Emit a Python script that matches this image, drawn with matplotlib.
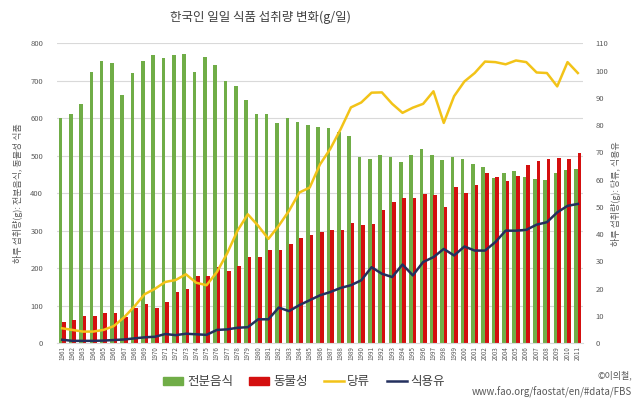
import matplotlib
matplotlib.use("Agg")
import matplotlib.pyplot as plt
from matplotlib.patches import Patch
from matplotlib.lines import Line2D
import numpy as np

plt.rcParams['font.family'] = ['Noto Sans CJK KR', 'DejaVu Sans']

years = list(range(1961, 2012))
starch = [600, 612, 637, 723, 754, 748, 661, 721, 752, 768,
          761, 770, 772, 724, 763, 742, 700, 687, 649, 611,
          611, 588, 602, 590, 581, 577, 575, 563, 554, 496,
          491, 503, 497, 484, 503, 518, 503, 489, 498, 491,
          479, 469, 442, 453, 460, 443, 439, 436, 454, 463, 466]
animal = [56, 62, 73, 73, 82, 82, 71, 93, 104, 93,
          109, 138, 146, 180, 180, 204, 193, 205, 230, 230,
          250, 250, 266, 281, 289, 297, 301, 301, 320, 315,
          319, 355, 377, 387, 387, 397, 395, 364, 417, 402,
          421, 455, 443, 432, 447, 475, 486, 491, 493, 491, 508]
sugar = [5.5, 4.9, 4.3, 4.3, 4.9, 6.3, 9.5, 13.5, 18.0, 20.0,
         22.5, 23.2, 25.3, 22.2, 21.3, 26.1, 33.0, 41.3, 47.3, 43.1,
         38.3, 43.1, 48.6, 55.3, 57.1, 65.6, 71.3, 78.5, 86.5, 88.3,
         91.9, 92.0, 87.8, 84.5, 86.4, 87.8, 92.4, 80.8, 90.6, 96.0,
         99.1, 103.3, 103.1, 102.3, 103.7, 103.1, 99.3, 99.1, 94.2, 103.1, 99.1]
oil = [1.3, 0.9, 0.9, 0.9, 1.0, 1.2, 1.4, 1.8, 2.2, 2.4,
       3.4, 3.0, 3.5, 3.3, 3.1, 4.9, 5.1, 5.7, 5.9, 8.8,
       8.8, 13.1, 11.8, 14.0, 15.8, 17.6, 18.8, 20.3, 21.3, 23.1,
       27.9, 25.5, 24.3, 28.9, 24.9, 29.8, 31.6, 34.6, 32.2, 35.5,
       34.0, 34.0, 37.1, 41.3, 41.3, 41.6, 43.5, 44.4, 48.0, 50.4, 51.1]

series_names = ['전분음식', '동물성', '당류', '식용유']
title = '한국인 일일 식품 섭취량 변화(g/일)'
left_label = '하루 섭취량(g): 전분음식, 동물성 식품'
right_label = '하루 섭취량(g): 당류, 식용유'
credit1 = '©이의철,'
credit2 = 'www.fao.org/faostat/en/#data/FBS'

c_green = '#70AD47'
c_red = '#D40F0F'
c_yellow = '#F2C318'
c_navy = '#24305E'
c_text = '#595959'

fig = plt.figure(figsize=(6.4, 3.99), dpi=100)
ax = fig.add_axes([57/640, 1-343.3/399, (583-57)/640, (343.3-43.3)/399])
x = np.arange(len(years))
w = 0.35
ax.bar(x - 0.17, starch, width=w, color=c_green, zorder=2)
ax.bar(x + 0.17, animal, width=w, color=c_red, zorder=2)
ax.set_xlim(-0.5, len(years) - 0.5)
ax.set_ylim(0, 800)
ax.set_yticks(range(0, 801, 100))
ax.yaxis.grid(True, color='#d9d9d9', linewidth=0.8, zorder=0)
ax.set_axisbelow(True)
for s in ax.spines.values():
    s.set_visible(False)
ax.spines['bottom'].set_visible(True)
ax.spines['bottom'].set_color('#d9d9d9')
ax.tick_params(axis='y', length=0, labelsize=5.5, labelcolor=c_text, pad=10)
ax.set_xticks(x)
ax.set_xticklabels([str(y) for y in years], rotation=90, fontsize=4.5, color=c_text)
ax.tick_params(axis='x', length=0, pad=2)
ax.set_ylabel(left_label, fontsize=6.5, color=c_text, labelpad=5)

ax2 = ax.twinx()
ax2.plot(x, sugar, color=c_yellow, linewidth=1.8, zorder=3)
ax2.plot(x, oil, color=c_navy, linewidth=1.8, zorder=3)
ax2.set_ylim(0, 110)
ax2.set_yticks(range(0, 111, 10))
for s in ax2.spines.values():
    s.set_visible(False)
ax2.tick_params(axis='y', length=0, labelsize=5.5, labelcolor=c_text, pad=9)
ax2.set_ylabel(right_label, fontsize=6.5, color=c_text, rotation=90, labelpad=2)

fig.text(260/640, 1-17/399, title, ha='center', va='center', fontsize=9, color='#404040')

handles = [Patch(color=c_green), Patch(color=c_red),
           Line2D([0], [0], color=c_yellow, lw=1.8),
           Line2D([0], [0], color=c_navy, lw=1.8)]
fig.legend(handles, series_names, loc='center', bbox_to_anchor=(304/640, 1-382/399),
           ncol=4, frameon=False, fontsize=9, handlelength=1.6, handleheight=0.6,
           handletextpad=0.3, columnspacing=1.3, labelcolor='#404040')

fig.text(632/640, 1-375/399, credit1, ha='right', va='center', fontsize=6.5, color=c_text)
fig.text(632/640, 1-392/399, credit2, ha='right', va='center', fontsize=7, color=c_text)

fig.savefig('out.png', dpi=100)
